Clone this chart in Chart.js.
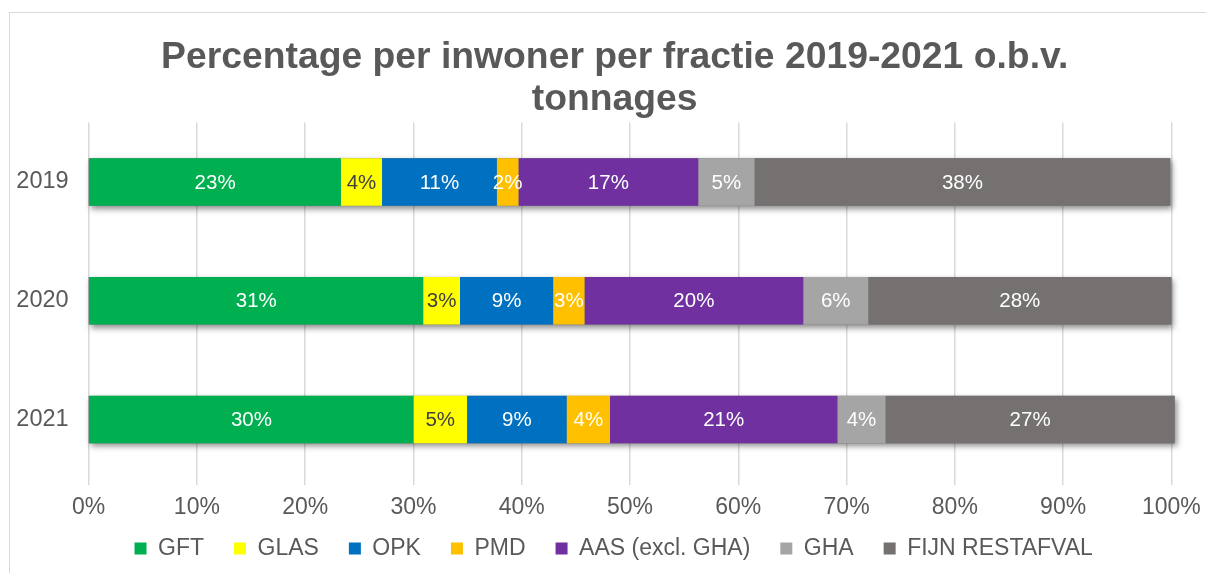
<!DOCTYPE html>
<html>
<head>
<meta charset="utf-8">
<script src="https://cdn.jsdelivr.net/npm/chart.js@4.4.1/dist/chart.umd.min.js"></script>
<style>
    html, body { margin: 0; padding: 0; background: #fff; overflow: hidden; }
    #frame { position: absolute; left: 9px; top: 12px; width: 1300px; height: 700px; border: 1px solid #d9d9d9; box-sizing: border-box; }
    #chart { position: absolute; left: 0; top: 0; }
</style>
</head>
<body>
<div id="frame"></div>
<canvas id="chart" width="1206" height="573"></canvas>
<script>
const years = ['2019', '2020', '2021']
const fractions = ['GFT', 'GLAS', 'OPK', 'PMD', 'AAS (excl. GHA)', 'GHA', 'FIJN RESTAFVAL']
const colors = ['#00b050', '#ffff00', '#0070c0', '#ffc000', '#7030a0', '#a5a5a5', '#767171']
// share per fraction, per year (%)
const gft = [23.3, 30.9, 30.0]
const glas = [3.8, 3.4, 4.95]
const opk = [10.6, 8.6, 9.2]
const pmd = [2.0, 2.9, 4.0]
const aas = [16.6, 20.2, 21.0]
const gha = [5.2, 6.0, 4.45]
const fijn = [38.4, 28.0, 26.7]
const series = [gft, glas, opk, pmd, aas, gha, fijn]
const xMin = 0
const xMax = 100
const xStep = 10

const font = '"Liberation Sans", Arial, sans-serif'
const grey = '#595959'

// soft shadow under each whole bar, then value labels on top
const barDecor = {
    id: 'barDecor',
    beforeDatasetsDraw(chart) {
        const { ctx } = chart
        const x = chart.scales.x
        const first = chart.getDatasetMeta(0)
        ctx.save()
        ctx.shadowColor = 'rgba(0,0,0,0.45)'
        ctx.shadowBlur = 6
        ctx.shadowOffsetX = 2
        ctx.shadowOffsetY = 3
        ctx.fillStyle = '#777'
        first.data.forEach((bar, i) => {
            const total = series.reduce((s, d) => s + d[i], 0)
            const x0 = x.getPixelForValue(0)
            const x1 = x.getPixelForValue(total)
            ctx.fillRect(x0, bar.y - bar.height / 2, x1 - x0, bar.height)
        })
        ctx.restore()
    },
    afterDatasetsDraw(chart) {
        const { ctx } = chart
        ctx.save()
        ctx.font = '20.5px ' + font
        ctx.textAlign = 'center'
        ctx.textBaseline = 'middle'
        chart.data.datasets.forEach((ds, di) => {
            const meta = chart.getDatasetMeta(di)
            meta.data.forEach((bar, i) => {
                const p = bar.getCenterPoint()
                ctx.fillStyle = di === 1 ? '#404040' : '#ffffff'
                ctx.fillText(Math.round(ds.data[i]) + '%', p.x, p.y + 1)
            })
        })
        ctx.restore()
    },
    afterLayout(chart) {
        // nudge title and legend to sit like the original
        const t = chart.titleBlock
        t.left += 23; t.right += 23
        const l = chart.legend
        l.left += 22; l.right += 22
        l.top -= 15; l.bottom -= 15
    }
}

new Chart(document.getElementById('chart'), {
    type: 'bar',
    data: {
        labels: years,
        datasets: fractions.map((name, i) => ({
            label: name,
            data: series[i],
            backgroundColor: colors[i],
            borderWidth: 0,
            barPercentage: 0.4,
            categoryPercentage: 1,
            clip: false
        }))
    },
    options: {
        indexAxis: 'y',
        responsive: false,
        animation: false,
        devicePixelRatio: 1,
        layout: { padding: { left: 12, right: 34.6, top: 0, bottom: -12 } },
        scales: {
            x: {
                stacked: true,
                min: xMin,
                max: xMax,
                grid: { color: '#d9d9d9', lineWidth: 1.5, tickLength: 6, tickColor: '#d9d9d9' },
                border: { display: false },
                ticks: {
                    stepSize: xStep,
                    padding: 9,
                    color: grey,
                    font: { family: font, size: 23 },
                    maxRotation: 0,
                    callback: v => v + '%'
                },
                afterFit: s => {
                    s.height = 43
                    s.paddingLeft = 0
                    s.paddingRight = 0
                }
            },
            y: {
                stacked: true,
                grid: { display: false, drawTicks: false },
                border: { display: false },
                ticks: { padding: 20, color: grey, font: { family: font, size: 23.5 } },
                afterFit: s => { s.width = 76.6 }
            }
        },
        plugins: {
            title: {
                display: true,
                text: ['Percentage per inwoner per fractie 2019-2021 o.b.v.', 'tonnages'],
                color: grey,
                font: { family: font, size: 37.3, weight: 'bold', lineHeight: 1.12 },
                padding: { top: 37, bottom: 2 }
            },
            legend: {
                position: 'bottom',
                labels: {
                    boxWidth: 12,
                    boxHeight: 12,
                    padding: 30,
                    color: grey,
                    font: { family: font, size: 23 }
                }
            },
            tooltip: { enabled: false }
        }
    },
    plugins: [barDecor]
})
</script>
</body>
</html>
